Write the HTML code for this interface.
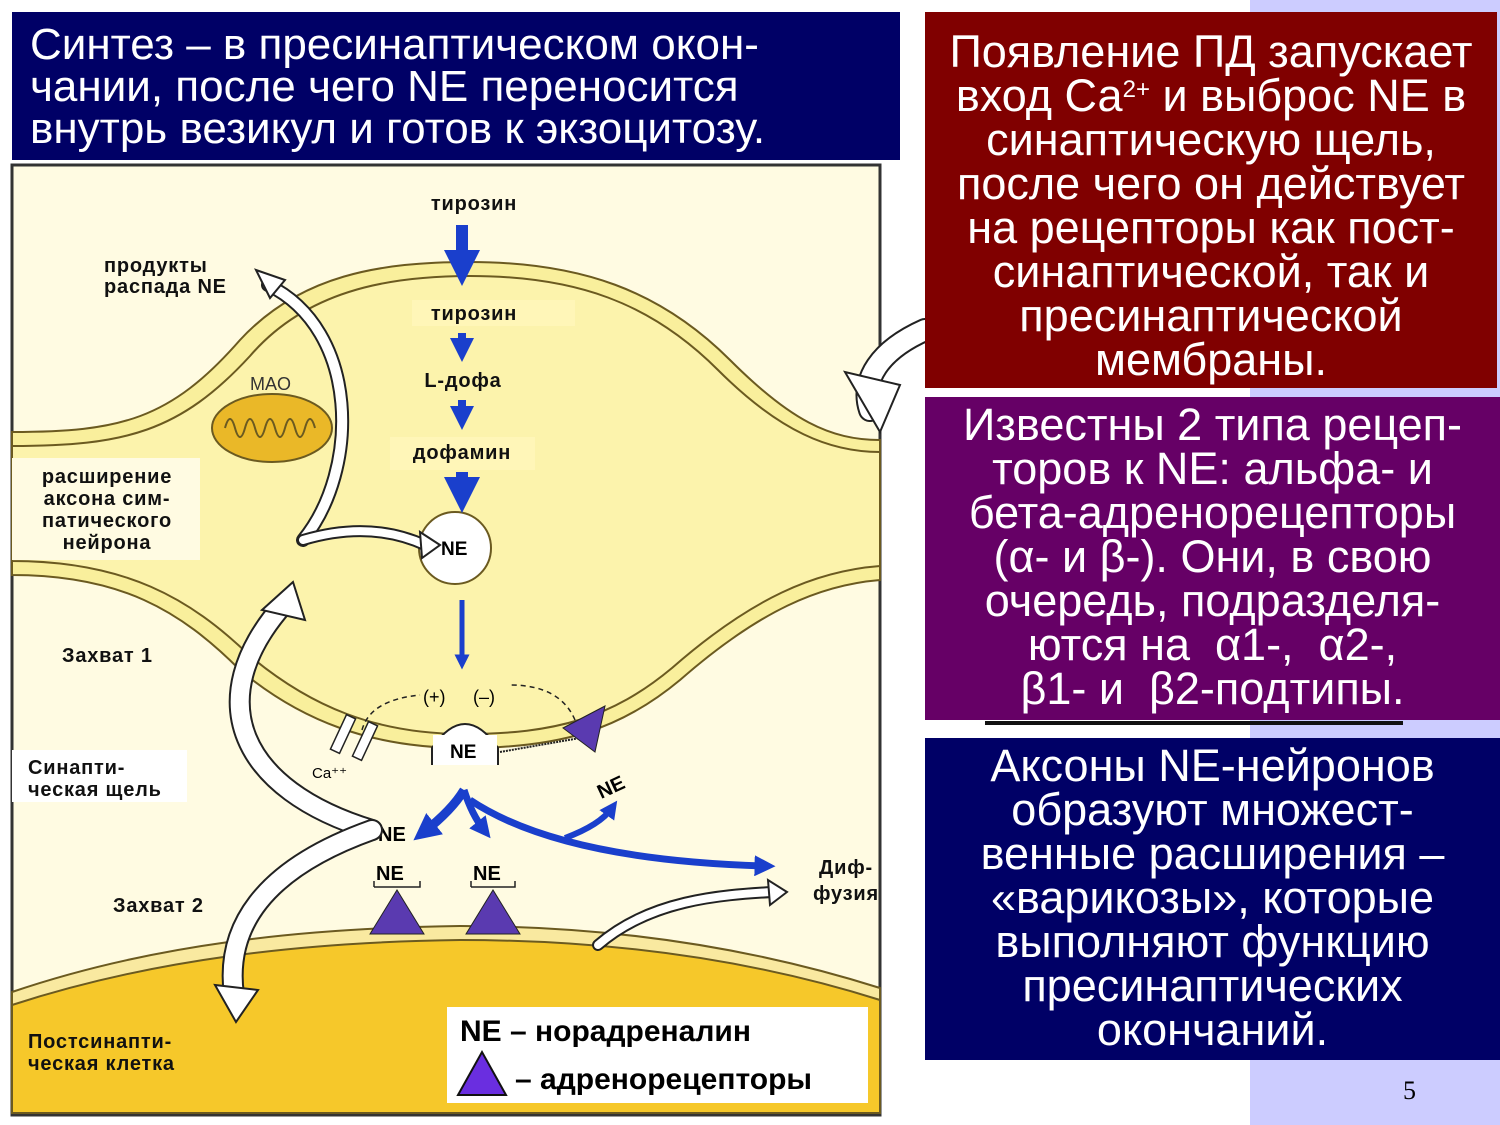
<!DOCTYPE html>
<html><head><meta charset="utf-8">
<style>
body{margin:0;width:1500px;height:1125px;background:#fff;position:relative;overflow:hidden;font-family:"Liberation Sans",sans-serif}
.strip{position:absolute;left:1250px;top:0;width:250px;height:1125px;background:#ccccff}
.box{position:absolute;color:#fff;font-size:45px;line-height:44px;text-align:center;white-space:nowrap}
#t{left:12px;top:12px;width:888px;height:148px;background:#000066;text-align:left;font-size:44px;line-height:42px;padding:0 0 0 18px;box-sizing:border-box;padding-top:12px}
#m{left:925px;top:12px;width:572px;height:376px;background:#800000;padding-top:18px;box-sizing:border-box}
#p{left:925px;top:397px;width:575px;height:323px;background:#660066;padding-top:6px;box-sizing:border-box}
#n{left:925px;top:738px;width:575px;height:322px;background:#000066;padding-top:6px;box-sizing:border-box}
.pg{position:absolute;left:1403px;top:1076px;font-family:"Liberation Serif",serif;font-size:26px}
svg{position:absolute;left:0;top:0}
</style></head><body>
<div class="strip"></div>
<svg width="1500" height="1125" viewBox="0 0 1500 1125">
<defs>
<marker id="bh" markerWidth="3" markerHeight="3" refX="1.5" refY="1.5" orient="auto" markerUnits="strokeWidth"><path d="M0,0 L3,1.5 L0,3 z" fill="#1a3fcc"/></marker>
</defs>
<rect x="12" y="165" width="868" height="950" fill="#fffbe2" stroke="#333" stroke-width="3"/>
<path d="M12,992 C150,945 300,928 460,926 C620,926 760,950 880,988 L880,1113 L12,1113 z" fill="#f9e9a0" stroke="#6b5a20" stroke-width="2"/>
<path d="M12,1005 C150,960 300,942 460,940 C620,940 760,962 880,1000 L880,1113 L12,1113 z" fill="#f6c82a" stroke="#6b5a20" stroke-width="2"/>
<path d="M12,432 C120,432 170,420 240,340 C300,275 380,262 470,262 C580,262 660,290 730,360 C790,420 830,440 880,440 L880,580 C820,585 760,610 680,680 C620,730 560,748 465,748 C370,748 300,720 240,670 C180,610 120,575 12,575 z" fill="#f9ef9c" stroke="#6b5a20" stroke-width="2"/>
<path d="M12,446 C125,446 180,432 250,356 C305,292 385,276 470,276 C575,276 650,302 718,370 C780,432 830,452 880,452 L880,566 C815,571 752,598 672,668 C612,718 555,734 465,734 C375,734 310,706 250,656 C190,598 125,561 12,561 z" fill="#fcf3ac" stroke="#6b5a20" stroke-width="2"/>
<rect x="12" y="458" width="188" height="102" fill="#fffbe2"/>
<rect x="12" y="750" width="175" height="52" fill="#fff"/>
<rect x="412" y="300" width="163" height="26" fill="#fff6b8"/>
<rect x="390" y="437" width="145" height="33" fill="#fff6b8"/>
<ellipse cx="272" cy="428" rx="60" ry="34" fill="#eab828" stroke="#6b5a20" stroke-width="2"/>
<path d="M225,428 q5,-18 10,0 q5,18 10,0 q5,-18 10,0 q5,18 10,0 q5,-18 10,0 q5,18 10,0 q5,-18 10,0 q5,18 10,0 q5,-18 10,0" fill="none" stroke="#6b5a20" stroke-width="2"/>
<text x="250" y="390" font-size="18" fill="#333">MAO</text>
<circle cx="455" cy="548" r="36" fill="#fff" stroke="#6b5a20" stroke-width="2"/>
<text x="441" y="555" font-size="19" font-weight="bold">NE</text>
<path d="M432,765 L432,748 Q465,700 498,748 L498,765" fill="#fff" stroke="#222" stroke-width="2"/>
<rect x="433" y="735" width="64" height="30" fill="#fff"/>
<text x="450" y="758" font-size="19" font-weight="bold">NE</text>
<rect x="338" y="715" width="10" height="38" fill="#fff" stroke="#222" stroke-width="1.5" transform="rotate(25 343 734)"/>
<rect x="360" y="722" width="10" height="38" fill="#fff" stroke="#222" stroke-width="1.5" transform="rotate(25 365 741)"/>
<text x="312" y="778" font-size="15">Ca⁺⁺</text>
<path d="M362,730 Q370,700 420,695" fill="none" stroke="#222" stroke-width="1.5" stroke-dasharray="5,4"/>
<path d="M575,720 Q560,685 510,685" fill="none" stroke="#222" stroke-width="1.5" stroke-dasharray="5,4"/>
<text x="423" y="703" font-size="18">(+)</text><text x="473" y="703" font-size="18">(–)</text>
<path d="M500,752 L580,738" stroke="#222" stroke-width="2" stroke-dasharray="2,1"/>
<polygon points="563,728 605,706 595,752" fill="#5a3ab0" stroke="#222"/>
<polygon points="370,934 397,890 424,934" fill="#5a3ab0" stroke="#222"/>
<polygon points="466,934 493,890 520,934" fill="#5a3ab0" stroke="#222"/>
<text x="376" y="880" font-size="20" font-weight="bold">NE</text><path d="M374,887 v-6 M374,887 h46 v-6" fill="none" stroke="#222" stroke-width="1.5"/>
<text x="473" y="880" font-size="20" font-weight="bold">NE</text><path d="M471,887 v-6 M471,887 h44 v-6" fill="none" stroke="#222" stroke-width="1.5"/>
<text x="378" y="841" font-size="20" font-weight="bold">NE</text>
<text x="596" y="794" font-size="20" font-weight="bold" transform="rotate(-25 610 785)">NE</text>
<g stroke="#1a3fcc" fill="none" stroke-linecap="butt">
<line x1="462" y1="225" x2="462" y2="268" stroke-width="12" marker-end="url(#bh)"/>
<line x1="462" y1="333" x2="462" y2="350" stroke-width="8" marker-end="url(#bh)"/>
<line x1="462" y1="400" x2="462" y2="418" stroke-width="8" marker-end="url(#bh)"/>
<line x1="462" y1="472" x2="462" y2="495" stroke-width="12" marker-end="url(#bh)"/>
<line x1="462" y1="600" x2="462" y2="662" stroke-width="5" marker-end="url(#bh)"/>
<path d="M464,790 Q452,810 424,832" stroke-width="9" marker-end="url(#bh)"/>
<path d="M464,790 Q472,815 484,830" stroke-width="7" marker-end="url(#bh)"/>
<path d="M470,800 Q560,860 765,866" stroke-width="7" marker-end="url(#bh)"/>
<path d="M565,838 Q600,825 612,808" stroke-width="6" marker-end="url(#bh)"/>
</g>
<g fill="none" stroke-linecap="round">
<path d="M303,540 C360,470 360,330 268,285" stroke="#222" stroke-width="14"/>
<path d="M303,540 C360,470 360,330 268,285" stroke="#fff" stroke-width="10"/>
<path d="M303,540 Q370,520 425,545" stroke="#222" stroke-width="12"/>
<path d="M303,540 Q370,520 425,545" stroke="#fff" stroke-width="8"/>
<path d="M372,830 C240,790 200,700 283,605" stroke="#222" stroke-width="22"/>
<path d="M372,830 C240,790 200,700 283,605" stroke="#fff" stroke-width="18"/>
<path d="M372,830 C260,870 225,930 234,995" stroke="#222" stroke-width="22"/>
<path d="M372,830 C260,870 225,930 234,995" stroke="#fff" stroke-width="18"/>
<path d="M598,945 C650,900 720,895 772,892" stroke="#222" stroke-width="12"/>
<path d="M598,945 C650,900 720,895 772,892" stroke="#fff" stroke-width="8"/>
<path d="M925,330 C880,350 860,380 870,410" stroke="#222" stroke-width="24"/>
<path d="M925,330 C880,350 860,380 870,410" stroke="#fff" stroke-width="20"/>
</g>
<polygon points="256,270 285,280 270,298" fill="#fff" stroke="#222" stroke-width="2"/>
<polygon points="440,545 420,532 422,558" fill="#fff" stroke="#222" stroke-width="2"/>
<polygon points="293,582 262,610 305,620" fill="#fff" stroke="#222" stroke-width="2"/>
<polygon points="236,1022 215,985 258,990" fill="#fff" stroke="#222" stroke-width="2"/>
<polygon points="787,892 768,880 770,905" fill="#fff" stroke="#222" stroke-width="2"/>
<polygon points="880,432 845,372 900,385" fill="#fff" stroke="#222" stroke-width="2"/>
<g font-size="20" font-weight="bold" fill="#111" letter-spacing="0.8">
<text x="474" y="210" text-anchor="middle">тирозин</text>
<text x="474" y="320" text-anchor="middle">тирозин</text>
<text x="463" y="387" text-anchor="middle">L-дофа</text>
<text x="462" y="459" text-anchor="middle">дофамин</text>
<text x="104" y="272">продукты</text><text x="104" y="293">распада NE</text>
<text x="107" y="483" text-anchor="middle">расширение</text>
<text x="107" y="505" text-anchor="middle">аксона сим-</text>
<text x="107" y="527" text-anchor="middle">патического</text>
<text x="107" y="549" text-anchor="middle">нейрона</text>
<text x="62" y="662">Захват 1</text>
<text x="28" y="774">Синапти-</text><text x="28" y="796">ческая щель</text>
<text x="113" y="912">Захват 2</text>
<text x="846" y="874" text-anchor="middle">Диф-</text><text x="846" y="900" text-anchor="middle">фузия</text>
<text x="28" y="1048">Постсинапти-</text><text x="28" y="1070">ческая клетка</text>
</g>
<rect x="447" y="1007" width="421" height="96" fill="#fff"/>
<text x="460" y="1041" font-size="30" font-weight="bold">NE – норадреналин</text>
<polygon points="458,1095 482,1052 506,1095" fill="#6a2ee0" stroke="#111" stroke-width="2"/>
<text x="515" y="1089" font-size="30" font-weight="bold">– адренорецепторы</text>
<line x1="985" y1="723" x2="1403" y2="723" stroke="#111" stroke-width="4"/>
</svg>
<div class="box" id="t">Синтез – в пресинаптическом окон-<br>чании, после чего NE переносится<br>внутрь везикул и готов к экзоцитозу.</div>
<div class="box" id="m">Появление ПД запускает<br>вход Са<sup style="font-size:24px;vertical-align:14px;line-height:0">2+</sup> и выброс NE в<br>синаптическую щель,<br>после чего он действует<br>на рецепторы как пост-<br>синаптической, так и<br>пресинаптической<br>мембраны.</div>
<div class="box" id="p">Известны 2 типа рецеп-<br>торов к NE: альфа- и<br>бета-адренорецепторы<br>(α- и β-). Они, в свою<br>очередь, подразделя-<br>ются на &nbsp;α1-, &nbsp;α2-,<br>β1- и &nbsp;β2-подтипы.</div>
<div class="box" id="n">Аксоны NE-нейронов<br>образуют множест-<br>венные расширения –<br>«варикозы», которые<br>выполняют функцию<br>пресинаптических<br>окончаний.</div>
<div class="pg">5</div>
</body></html>
